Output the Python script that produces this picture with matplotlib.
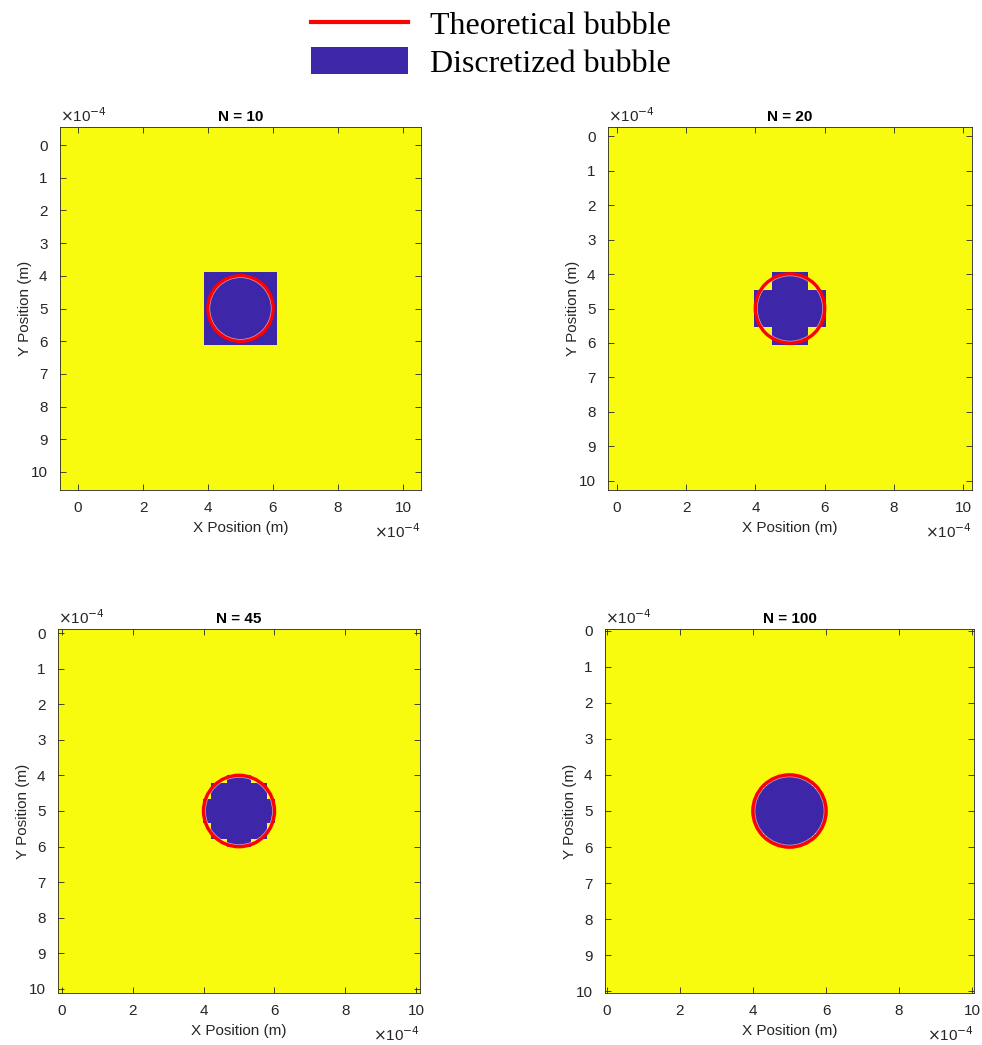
import numpy as np
import matplotlib
matplotlib.use("Agg")
import matplotlib.pyplot as plt
from matplotlib.colors import ListedColormap
from matplotlib.lines import Line2D
from matplotlib.patches import Patch, Circle

plt.rcParams['font.family'] = ['Liberation Sans', 'DejaVu Sans']

# Simulation setup (lengths in metres)
grid_sizes = [10, 20, 45, 100]
domain_length = 1e-3
bubble_center = (5e-4, 5e-4)
bubble_radius = 1e-4
scale = 1e-4  # axes show values in units of 1e-4 m

x_ticks = [0, 2, 4, 6, 8, 10]
y_ticks = [0, 1, 2, 3, 4, 5, 6, 7, 8, 9, 10]

blue = '#3E26A8'
yellow = '#F9FB0E'
text_col = '#262626'
cmap = ListedColormap([blue, yellow])

W, H = 982, 1045
fig = plt.figure(figsize=(W / 100, H / 100), dpi=100)

# axes boxes in pixels: left, top, right, bottom
boxes = [(60, 127, 421, 490), (608, 127, 972, 490),
         (58, 629, 420, 993), (605, 629, 974, 993)]

exponent = r'$\times$10$^{-4}$'

for n, (l, t, r, b) in zip(grid_sizes, boxes):
    ax = fig.add_axes([l / W, 1 - b / H, (r - l) / W, (b - t) / H])

    # grid nodes, pixels centred on nodes like imagesc
    x = np.linspace(0, domain_length, n)
    y = np.linspace(0, domain_length, n)
    X, Y = np.meshgrid(x, y)
    inside = (X - bubble_center[0]) ** 2 + (Y - bubble_center[1]) ** 2 <= bubble_radius ** 2
    field = np.where(inside, 0, 1)

    dx = x[1] - x[0]
    ext = [(x[0] - dx / 2) / scale, (x[-1] + dx / 2) / scale,
           (y[-1] + dx / 2) / scale, (y[0] - dx / 2) / scale]
    ax.imshow(field, cmap=cmap, vmin=0, vmax=1, extent=ext, origin='upper',
              interpolation='nearest', aspect='auto')

    cx, cy = bubble_center[0] / scale, bubble_center[1] / scale
    rr = bubble_radius / scale
    ax.add_patch(Circle((cx, cy), rr, fill=False, edgecolor='red', linewidth=2.6))
    ax.add_patch(Circle((cx, cy), rr * 0.945, fill=False, edgecolor='white',
                        linewidth=0.5, alpha=0.6))

    ax.set_xlim(ext[0], ext[1])
    ax.set_ylim(ext[2], ext[3])
    ax.set_xticks(x_ticks)
    ax.set_yticks(y_ticks)
    ax.tick_params(direction='in', top=True, right=True, labelsize=11,
                   length=4, width=0.6, colors=text_col)
    ax.tick_params(axis='x', pad=8)
    ax.tick_params(axis='y', pad=9)
    for s in ax.spines.values():
        s.set_linewidth(0.6)
        s.set_color(text_col)

    ax.set_title('N = %d' % n, fontsize=11, fontweight='bold', pad=4)
    ax.set_xlabel('X Position (m)', fontsize=11, labelpad=4, color=text_col)
    ax.set_ylabel('Y Position (m)', fontsize=11, labelpad=-1, color=text_col)

    # MATLAB style exponent labels
    ax.text(0.0, 1.005, exponent, transform=ax.transAxes,
            ha='left', va='bottom', fontsize=11, color=text_col)
    ax.text(1.0, -0.09, exponent, transform=ax.transAxes,
            ha='right', va='top', fontsize=11, color=text_col)

handles = [Line2D([0], [0], color='red', linewidth=3),
           Patch(facecolor=blue, edgecolor='none')]
fig.legend(handles, ['Theoretical bubble', 'Discretized bubble'],
           loc='upper center', bbox_to_anchor=(0.5, 1.009), frameon=False,
           prop={'family': 'Liberation Serif', 'size': 23},
           handlelength=3.05, handleheight=0.9, handletextpad=0.69,
           labelspacing=0.2, borderpad=0.1)

fig.savefig('out.png', dpi=100)
